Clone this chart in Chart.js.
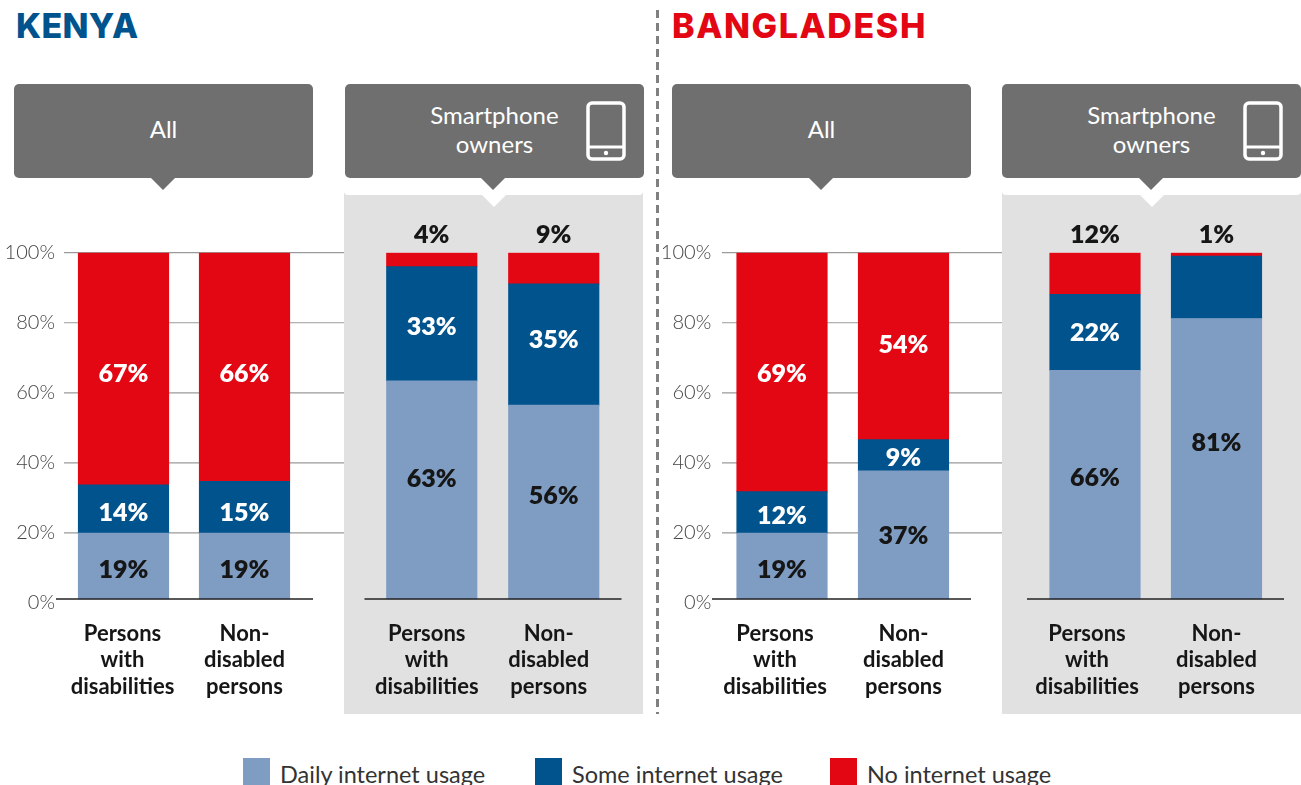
<!DOCTYPE html>
<html>
<head>
<meta charset="utf-8">
<title>Internet usage by disability status</title>
<script src="https://cdn.jsdelivr.net/npm/chart.js@4/dist/chart.umd.min.js"></script>
<style>
  html, body { margin: 0; padding: 0; background: #fff; }
  #page { position: relative; width: 1301px; height: 785px; overflow: hidden; font-family: Lato, sans-serif; }
  #page > * { position: absolute; }
  canvas { display: block; }

  .country { top: 6px; font: 800 34px/40px Inter, sans-serif; }
  #kenya { left: 16px; color: #00538c; letter-spacing: 0.3px; }
  #bangladesh { left: 672px; color: #e30613; letter-spacing: 1.6px; }
  #divider { left: 656px; top: 10px; width: 3px; height: 704px;
    background: repeating-linear-gradient(#808080 0 8px, transparent 8px 13px); }

  .shade { top: 178px; height: 536px; background: #e1e1e1; width: 299px; }
  .band { top: 178px; height: 17px; width: 299px; background: #fff; border-radius: 0 0 4px 4px; }
  .box { top: 84px; height: 94px; width: 299px; background: #6f6f6f; border-radius: 5px;
    color: #fff; font-size: 24px; line-height: 29px; text-align: center; }
  .box span { position: absolute; top: 30px; width: 100%; left: 0; }
  .box .two { top: 16px; left: 0; }
  .box svg { position: absolute; left: 241px; top: 17px; }
  .tip { top: 178px; width: 0; height: 0; border-left: 12px solid transparent; border-right: 12px solid transparent; border-top: 12px solid #6f6f6f; }
  .notch { top: 195px; width: 0; height: 0; border-left: 12px solid transparent; border-right: 12px solid transparent; border-top: 12px solid #fff; }

  .swatch { top: 758px; width: 27px; height: 27px; }
  .key { top: 759px; font-size: 23.5px; line-height: 30px; color: #333; white-space: nowrap; }
</style>
</head>
<body>
<div id="page">
  <div id="kenya" class="country">KENYA</div>
  <div id="bangladesh" class="country">BANGLADESH</div>
  <div id="divider"></div>

  <div class="shade" style="left:344px"></div>
  <div class="shade" style="left:1002px"></div>
  <div class="band" style="left:344px"></div>
  <div class="band" style="left:1002px"></div>
  <div class="notch" style="left:482px"></div>
  <div class="notch" style="left:1140px"></div>

  <div class="box" style="left:14px"><span>All</span></div>
  <div class="tip" style="left:151px"></div>
  <div class="box" style="left:345px">
    <span class="two">Smartphone<br>owners</span>
    <svg width="41" height="60" viewBox="0 0 41 60"><rect x="2" y="2" width="36" height="56" rx="4" fill="none" stroke="#fff" stroke-width="3.5"/><line x1="2" y1="46" x2="38" y2="46" stroke="#fff" stroke-width="3"/><circle cx="20" cy="52" r="2.2" fill="#fff"/></svg>
  </div>
  <div class="tip" style="left:481px"></div>

  <div class="box" style="left:672px"><span>All</span></div>
  <div class="tip" style="left:809px"></div>
  <div class="box" style="left:1002px">
    <span class="two">Smartphone<br>owners</span>
    <svg width="41" height="60" viewBox="0 0 41 60"><rect x="2" y="2" width="36" height="56" rx="4" fill="none" stroke="#fff" stroke-width="3.5"/><line x1="2" y1="46" x2="38" y2="46" stroke="#fff" stroke-width="3"/><circle cx="20" cy="52" r="2.2" fill="#fff"/></svg>
  </div>
  <div class="tip" style="left:1139px"></div>

  <canvas id="kenya-all" width="344" height="513" style="left:0;top:200px"></canvas>
  <canvas id="kenya-owners" width="299" height="513" style="left:344px;top:200px"></canvas>
  <canvas id="bangladesh-all" width="342" height="513" style="left:660px;top:200px"></canvas>
  <canvas id="bangladesh-owners" width="299" height="513" style="left:1002px;top:200px"></canvas>

  <div class="swatch" style="left:243px;background:#7f9dc3"></div>
  <div class="key" style="left:280px">Daily internet usage</div>
  <div class="swatch" style="left:535px;background:#00538c"></div>
  <div class="key" style="left:572px">Some internet usage</div>
  <div class="swatch" style="left:830px;background:#e30613"></div>
  <div class="key" style="left:867px">No internet usage</div>
</div>

<script>
// Data
const groupLabels = [['Persons', 'with', 'disabilities'], ['Non-', 'disabled', 'persons']];
const yTickStep = 20;

const kenyaAllDaily = [19, 19];
const kenyaAllSome = [14, 15];
const kenyaAllNone = [67, 66];

const kenyaOwnersDaily = [63, 56];
const kenyaOwnersSome = [33, 35];
const kenyaOwnersNone = [4, 9];

const bangladeshAllDaily = [19, 37];
const bangladeshAllSome = [12, 9];
const bangladeshAllNone = [69, 54];

const bangladeshOwnersDaily = [66, 81];
const bangladeshOwnersSome = [22, 18];
const bangladeshOwnersNone = [12, 1];

// Colours
const DAILY_COLOR = '#7f9dc3';
const SOME_COLOR = '#00538c';
const NONE_COLOR = '#e30613';
const GRID_COLOR = '#9a9a9a';
const BASE_COLOR = '#222222';
const INK = '#161616';

// Bars rest a little above the lowest tick, so the tick axis and the value axis differ
const BAR_AXIS_MIN = -1.155;
const PLOT_TOP = 52.7;
const PLOT_BOTTOM_PAD = 110;

// Draws gridlines, baseline, category names and percentages for one panel
const panelDecor = {
    id: 'panelDecor',
    beforeDatasetsDraw(chart, args, opts) {
        const { ctx, scales: { ticksY } } = chart;
        ctx.save();
        if (opts.grid) {
            ctx.strokeStyle = GRID_COLOR;
            ctx.lineWidth = 1.2;
            ticksY.ticks.forEach(tick => {
                if (tick.value === 0) return;
                const py = ticksY.getPixelForValue(tick.value);
                ctx.beginPath();
                ctx.moveTo(opts.grid[0], py);
                ctx.lineTo(opts.grid[1], py);
                ctx.stroke();
            });
        }
        ctx.restore();
    },
    afterDatasetsDraw(chart, args, opts) {
        const { ctx, scales: { x, y } } = chart;
        ctx.save();

        const base = y.getPixelForValue(0);
        ctx.strokeStyle = BASE_COLOR;
        ctx.lineWidth = 1.5;
        ctx.beginPath();
        ctx.moveTo(opts.base[0], base);
        ctx.lineTo(opts.base[1], base);
        ctx.stroke();

        ctx.textAlign = 'center';
        ctx.textBaseline = 'middle';

        // Category names
        ctx.font = '700 22px Lato, sans-serif';
        ctx.fillStyle = INK;
        groupLabels.forEach((lines, i) => {
            const cx = x.getPixelForValue(i) + opts.nameShift[i];
            lines.forEach((line, n) => ctx.fillText(line, cx, base + 34.8 + n * 26.6));
        });

        // Percent labels
        ctx.font = '800 25px Lato, sans-serif';
        chart.data.datasets.forEach((ds, d) => {
            const low = chart.data.datasets.slice(0, d);
            ds.data.forEach((value, i) => {
                if (ds.unlabelled && ds.unlabelled[i]) return;
                const start = low.reduce((sum, other) => sum + other.data[i], 0);
                const cx = x.getPixelForValue(i);
                let cy = (y.getPixelForValue(start) + y.getPixelForValue(start + value)) / 2;
                let color = ds.labelColor;
                if (ds.labelAbove) {
                    cy = y.getPixelForValue(100) - 17.5;
                    color = INK;
                } else {
                    cy += ds.nudge[i] + 1;
                }
                ctx.fillStyle = color;
                ctx.fillText(value + '%', cx, cy);
            });
        });
        ctx.restore();
    }
};

function buildPanel(canvasId, daily, some, none, layout) {
    const canvas = document.getElementById(canvasId);
    return new Chart(canvas, {
        type: 'bar',
        data: {
            labels: groupLabels.map(lines => lines.join(' ')),
            datasets: [
                { label: 'Daily internet usage', data: daily, backgroundColor: DAILY_COLOR, labelColor: INK, nudge: layout.nudge[0] },
                { label: 'Some internet usage', data: some, backgroundColor: SOME_COLOR, labelColor: '#fff', nudge: layout.nudge[1], unlabelled: layout.unlabelled },
                { label: 'No internet usage', data: none, backgroundColor: NONE_COLOR, labelColor: '#fff', nudge: layout.nudge[2], labelAbove: layout.noneAbove }
            ].map(ds => Object.assign(ds, { barThickness: 90.5, borderWidth: 0, yAxisID: 'y' }))
        },
        options: {
            responsive: false,
            animation: false,
            devicePixelRatio: 1,
            layout: { padding: { left: layout.padLeft, right: layout.padRight, top: PLOT_TOP, bottom: PLOT_BOTTOM_PAD } },
            plugins: {
                legend: { display: false },
                tooltip: { enabled: false },
                panelDecor: { grid: layout.grid, base: layout.base, nameShift: layout.nameShift }
            },
            scales: {
                x: { display: false, stacked: true },
                y: { display: false, stacked: true, min: BAR_AXIS_MIN, max: 100 },
                ticksY: {
                    display: layout.showTicks,
                    position: 'left',
                    min: 0,
                    max: 100,
                    afterFit: scale => { scale.width = layout.tickWidth; },
                    grid: { display: false, drawTicks: false },
                    border: { display: false },
                    ticks: {
                        stepSize: yTickStep,
                        padding: layout.tickPad,
                        color: '#444444',
                        font: { family: 'Lato, sans-serif', size: 20, weight: '300' },
                        callback: value => value + '%'
                    }
                }
            }
        },
        plugins: [panelDecor]
    });
}

// Panels (x values below are canvas-relative)
buildPanel('kenya-all', kenyaAllDaily, kenyaAllSome, kenyaAllNone, {
    showTicks: true, tickWidth: 63, tickPad: 8, padLeft: 0, padRight: 39,
    grid: [64, 344], base: [56, 313],
    nameShift: [-1, 0],
    nudge: [[3, 3], [3, 4.5], [4, 6]]
});

buildPanel('kenya-owners', kenyaOwnersDaily, kenyaOwnersSome, kenyaOwnersNone, {
    showTicks: false, tickWidth: 0, tickPad: 0, padLeft: 26.75, padRight: 28.25,
    base: [20.5, 277.5],
    nameShift: [-5, -5],
    nudge: [[-12, -7], [2, -6], [0, 0]],
    noneAbove: true
});

buildPanel('bangladesh-all', bangladeshAllDaily, bangladeshAllSome, bangladeshAllNone, {
    showTicks: true, tickWidth: 61.25, tickPad: 10, padLeft: 0, padRight: 37.75,
    grid: [62, 342], base: [52, 311],
    nameShift: [-7, 0],
    nudge: [[3, 0], [3, 2], [1, -2]]
});

buildPanel('bangladesh-owners', bangladeshOwnersDaily, bangladeshOwnersSome, bangladeshOwnersNone, {
    showTicks: false, tickWidth: 0, tickPad: 0, padLeft: 32.25, padRight: 23.75,
    base: [25, 282],
    nameShift: [-8, 0],
    nudge: [[-8, -17], [0, 0], [0, 0]],
    unlabelled: [false, true],
    noneAbove: true
});
</script>
</body>
</html>
